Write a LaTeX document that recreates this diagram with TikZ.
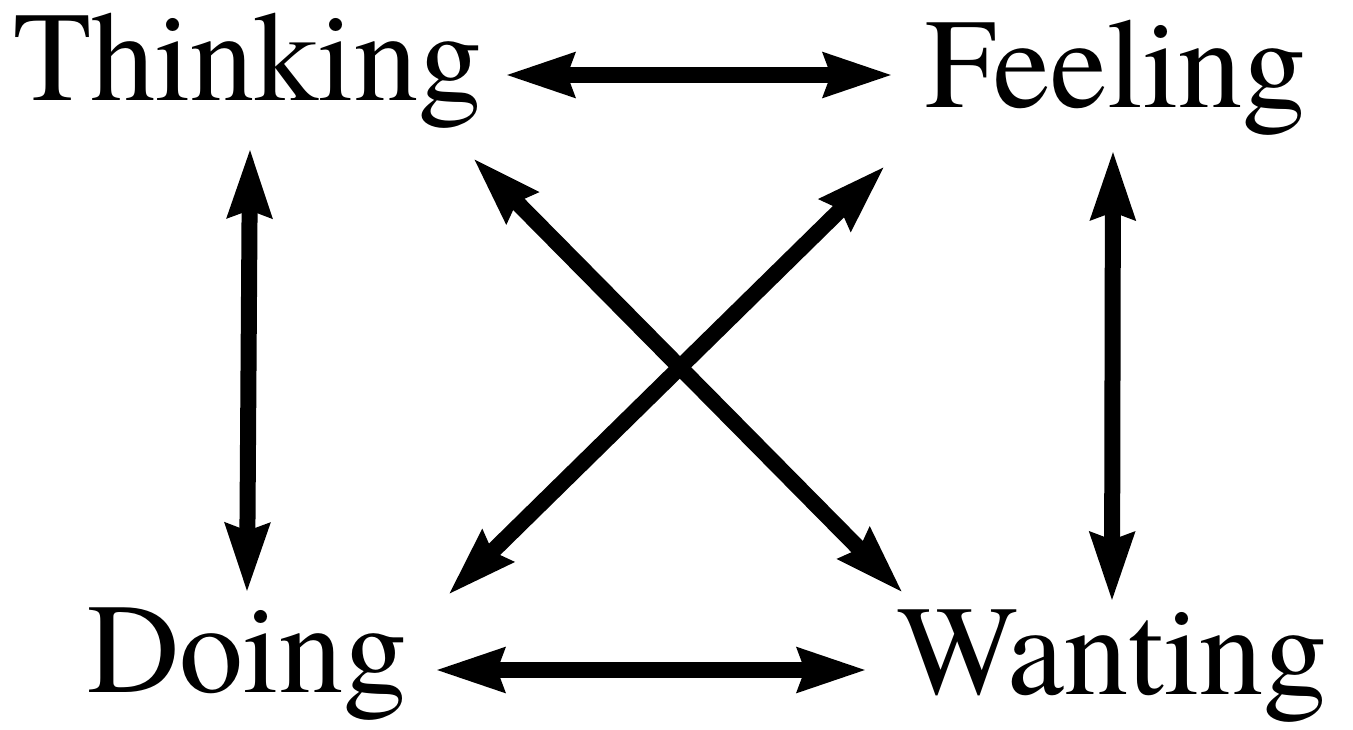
\documentclass[tikz,border=0pt]{standalone}
\usepackage{fontspec}
\newfontfamily\timesfam{texgyretermes}[Extension=.otf,UprightFont=*-regular]
\usetikzlibrary{arrows.meta,calc}
\tikzset{
  word/.style={anchor=base west,inner sep=0pt,font=\timesfam\fontsize{128}{150}\selectfont},
  link/.style={line width=16pt,{Stealth[length=68pt,width=42pt,inset=6pt]}-{Stealth[length=68pt,width=42pt,inset=6pt]}}
}
\begin{document}
\begin{tikzpicture}[x=1pt,y=-1pt]
\useasboundingbox[fill=white] (0,0) rectangle (1353,729);
\node[word] (T) at (13,100) {Thinking};
\node[word] (F) at (925,107) {Feeling};
\node[word] (D) at (87,692) {Doing};
\node[word] (W) at (897,694) {Wanting};
\draw[link] ($(T.base west)+(492,-25)$) -- ($(F.base west)+(-32,-32)$);
\draw[link] ($(T.base west)+(237,48)$) -- ($(D.base west)+(160,-99)$);
\draw[link] ($(F.base west)+(188,43)$) -- ($(W.base west)+(215,-92)$);
\draw[link] ($(D.base west)+(348,-22)$) -- ($(W.base west)+(-30,-24)$);
\draw[link] ($(T.base west)+(460,58)$) -- ($(W.base west)+(6,-101)$);
\draw[link] ($(F.base west)+(-40,59)$) -- ($(D.base west)+(361,-97)$);
\end{tikzpicture}
\end{document}
